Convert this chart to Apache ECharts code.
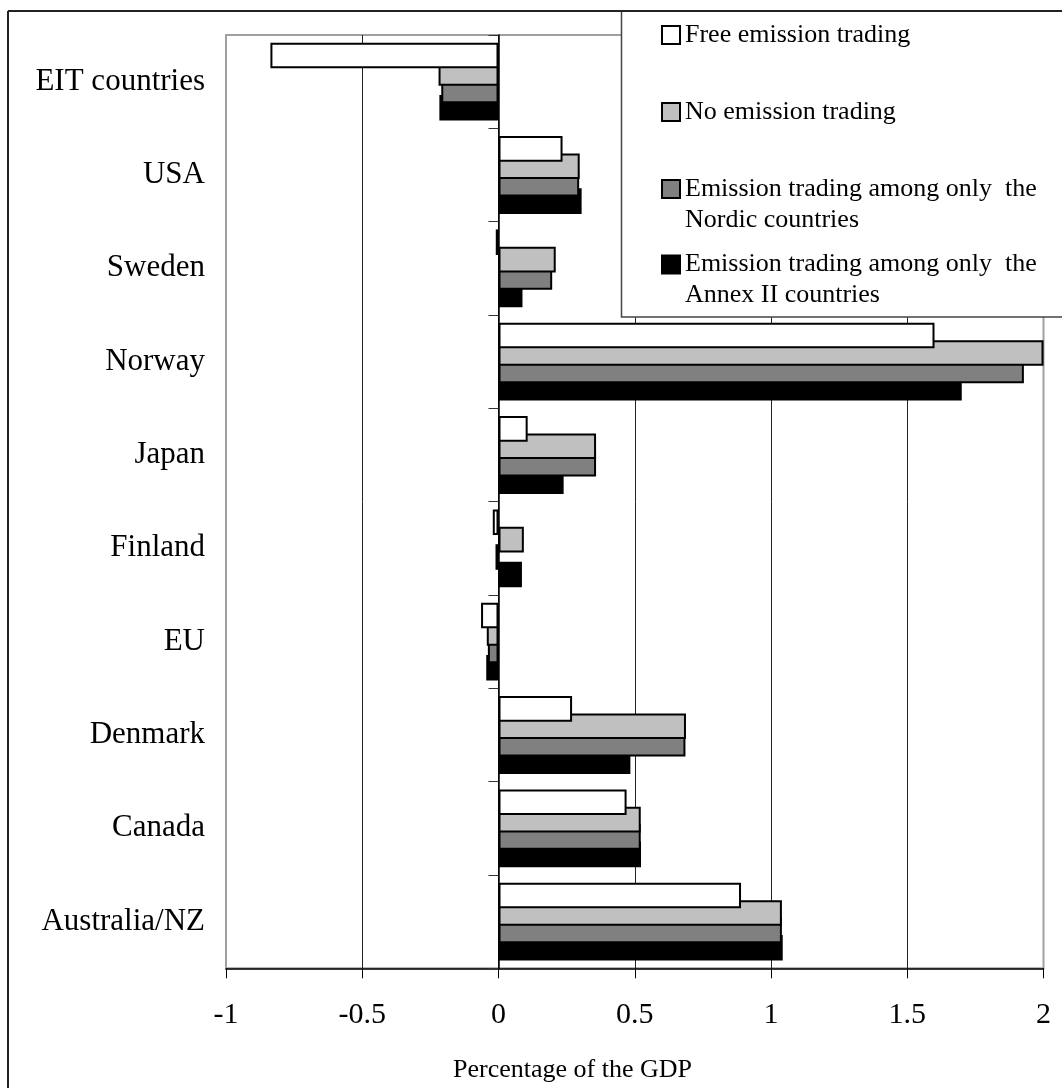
<!DOCTYPE html>
<html>
<head>
<meta charset="utf-8">
<title>Percentage of the GDP</title>
<script src="https://cdn.jsdelivr.net/npm/echarts@6/dist/echarts.min.js"></script>
<style>
  html, body { margin: 0; padding: 0; background: #fff; }
  #chart { width: 1062px; height: 1088px; }
</style>
</head>
<body>
<div id="chart"></div>
<script>
// Regions, listed bottom to top as they appear on the category axis
const regions = ['Australia/NZ', 'Canada', 'Denmark', 'EU', 'Finland', 'Japan', 'Norway', 'Sweden', 'USA', 'EIT countries'];

// Welfare cost, percentage of the GDP, per scenario
const freeTrading   = [0.89, 0.47, 0.27, -0.064, -0.021, 0.107, 1.60, -0.01, 0.235, -0.837];
const noTrading     = [1.04, 0.522, 0.688, -0.043, 0.093, 0.358, 2.0, 0.21, 0.298, -0.22];
const nordicTrading = [1.04, 0.522, 0.686, -0.039, -0.011, 0.358, 1.928, 0.197, 0.296, -0.21];
const annexTrading  = [1.043, 0.523, 0.484, -0.045, 0.086, 0.239, 1.70, 0.088, 0.305, -0.217];

const seriesNames = [
  'Free emission trading',
  'No emission trading',
  'Emission trading among only  the Nordic countries',
  'Emission trading among only  the Annex II countries'
];

const FONT = "'Liberation Serif', 'Times New Roman', serif";

const chart = echarts.init(document.getElementById('chart'), null, { renderer: 'canvas' });

function barSeries(name, data, color, z) {
  return {
    name: name,
    type: 'bar',
    data: data,
    yAxisIndex: 0,
    barWidth: 25.6,
    barGap: '-32%',
    z: z,
    itemStyle: { color: color, borderColor: '#000', borderWidth: 2 },
    emphasis: { disabled: true },
    animation: false
  };
}

function legendItem(name, top, label) {
  return {
    data: [{ name: name }],
    left: 656,
    top: top,
    itemWidth: 18,
    itemHeight: 18,
    icon: 'rect',
    z: 20,
    selectedMode: false,
    itemStyle: { borderColor: '#000', borderWidth: 2 },
    formatter: function () { return label; },
    textStyle: { fontFamily: FONT, fontSize: 26, lineHeight: 31, color: '#000' }
  };
}

const option = {
  animation: false,
  backgroundColor: '#fff',
  grid: {
    left: 226, right: 18.5, top: 35, bottom: 119.7,
    containLabel: false,
    outerBoundsMode: 'none',
    show: true, borderColor: '#a0a0a0', borderWidth: 2, backgroundColor: 'transparent'
  },
  title: {
    text: 'Percentage of the GDP',
    left: 448,
    top: 1052,
    textStyle: { fontFamily: FONT, fontSize: 26, fontWeight: 'normal', color: '#000' }
  },
  legend: [
    legendItem(seriesNames[0], 14.5, 'Free emission trading'),
    legendItem(seriesNames[1], 91.5, 'No emission trading'),
    legendItem(seriesNames[2], 137.5, '\nEmission trading among only  the\nNordic countries'),
    legendItem(seriesNames[3], 213, '\nEmission trading among only  the\nAnnex II countries')
  ],
  xAxis: {
    type: 'value',
    min: -1, max: 2, interval: 0.5,
    axisLine: { show: true, onZero: false, lineStyle: { color: '#000', width: 1.5 } },
    axisTick: { show: true, length: 10, lineStyle: { color: '#000', width: 1 } },
    axisLabel: { fontFamily: FONT, fontSize: 30, color: '#000', margin: 32 },
    splitLine: { show: true, showMinLine: false, showMaxLine: false, lineStyle: { color: '#222', width: 1 } }
  },
  yAxis: [
    {
      // region names along the left edge of the plot
      type: 'category',
      data: regions,
      position: 'left',
      axisLine: { show: false, onZero: false },
      axisTick: { show: false },
      axisLabel: { fontFamily: FONT, fontSize: 31, color: '#000', margin: 21 },
      splitLine: { show: false }
    },
    {
      // axis line and ticks through zero, ticks pointing left
      type: 'category',
      data: regions,
      position: 'right',
      axisLine: { show: true, onZero: true, lineStyle: { color: '#000', width: 1.5 } },
      axisTick: { show: true, inside: true, length: 10, lineStyle: { color: '#333', width: 1 } },
      axisLabel: { show: false },
      splitLine: { show: false }
    }
  ],
  graphic: [
    // chart frame (top and left edges; the rest runs off the page)
    { type: 'line', z: 30, shape: { x1: 8, y1: 11, x2: 1062, y2: 11 }, style: { stroke: '#222', lineWidth: 2 } },
    { type: 'line', z: 30, shape: { x1: 8, y1: 11, x2: 8, y2: 1088 }, style: { stroke: '#222', lineWidth: 2 } },
    // legend box
    { type: 'rect', z: 10, shape: { x: 621.5, y: 11, width: 460, height: 306 },
      style: { fill: '#fff', stroke: '#444', lineWidth: 1.5 } }
  ],
  series: [
    barSeries(seriesNames[0], freeTrading, '#ffffff', 6),
    barSeries(seriesNames[1], noTrading, '#c0c0c0', 5),
    barSeries(seriesNames[2], nordicTrading, '#808080', 4),
    barSeries(seriesNames[3], annexTrading, '#000000', 3)
  ]
};

chart.setOption(option);
</script>
</body>
</html>
